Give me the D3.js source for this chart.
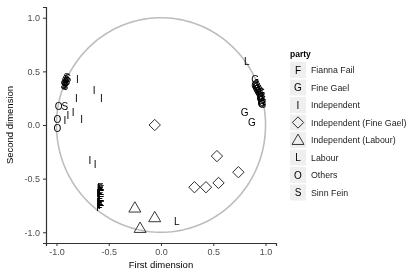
<!DOCTYPE html>
<html lang="en">
<head>
  <meta charset="UTF-8" />
  <title>d3</title>
  <script src="https://cdn.jsdelivr.net/npm/d3@7"></script>
  <style>
    body { margin: 0; background: #fff; }
    svg { filter: grayscale(1); }
    text { font-family: "Liberation Sans", Arial, sans-serif; }
  </style>
</head>
<body>
  <svg id="svg"></svg>
</body>
<script>
  // legend order
  const parties = ["Fianna Fail", "Fine Gael", "Independent", "Independent (Fine Gael)",
    "Independent (Labour)", "Labour", "Others", "Sinn Fein"];
  const ticks = [-1.0, -0.5, 0.0, 0.5, 1.0];

  // points per party, [first, second]
  const fiannaFail = [[-0.58, -0.58], [-0.58, -0.61], [-0.59, -0.64], [-0.58, -0.67],
    [-0.58, -0.70], [-0.59, -0.72], [-0.58, -0.74], [-0.59, -0.77],
    [-0.57, -0.60], [-0.57, -0.65], [-0.57, -0.70], [-0.57, -0.75],
    [-0.585, -0.595], [-0.585, -0.685], [-0.585, -0.755]];
  const fineGael = [[0.90, 0.42], [0.90, 0.37], [0.91, 0.35], [0.92, 0.33], [0.93, 0.31],
    [0.94, 0.29], [0.95, 0.27], [0.95, 0.25], [0.96, 0.23], [0.97, 0.21], [0.97, 0.19],
    [0.96, 0.30], [0.93, 0.34], [0.91, 0.38], [0.92, 0.36], [0.94, 0.32], [0.95, 0.30],
    [0.96, 0.26], [0.97, 0.24], [0.96, 0.20], [0.80, 0.12], [0.87, 0.02]];
  const independent = [[-0.80, 0.42], [-0.64, 0.32], [-0.57, 0.25], [-0.81, 0.25],
    [-0.84, 0.12], [-0.89, 0.09], [-0.92, 0.04], [-0.76, 0.05], [-0.68, -0.33], [-0.63, -0.37]];
  const indFineGael = [[-0.06, 0.00], [0.535, -0.29], [0.74, -0.44], [0.55, -0.54],
    [0.43, -0.58], [0.32, -0.58]];
  const indLabour = [[-0.25, -0.77], [-0.06, -0.86], [-0.20, -0.96]];
  const labour = [[0.82, 0.59], [0.15, -0.90]];
  const others = [[-0.98, 0.17], [-0.99, 0.05], [-0.99, -0.03]];
  const sinnFein = [[-0.93, 0.37], [-0.92, 0.39], [-0.93, 0.38], [-0.91, 0.40],
    [-0.92, 0.41], [-0.91, 0.42], [-0.90, 0.44], [-0.92, 0.36], [-0.90, 0.41],
    [-0.89, 0.43], [-0.92, 0.17]];

  const marks = [
    { data: fiannaFail, shape: "F" },
    { data: fineGael, shape: "G" },
    { data: independent, shape: "I" },
    { data: indFineGael, shape: "diamond" },
    { data: indLabour, shape: "triangle" },
    { data: labour, shape: "L" },
    { data: others, shape: "O" },
    { data: sinnFein, shape: "S" },
  ];

  const width = 413, height = 273;
  const svg = d3.select("#svg").attr("width", width).attr("height", height);

  const x = d3.scaleLinear().domain([-1.1, 1.1]).range([46, 276]);
  const y = d3.scaleLinear().domain([-1.1, 1.1]).range([243, 7]);

  // unit circle
  const circle = d3.range(0, 361, 2).map(a => [Math.cos(a * Math.PI / 180), Math.sin(a * Math.PI / 180)]);
  svg.append("path")
    .attr("d", d3.line().x(d => x(d[0])).y(d => y(d[1]))(circle))
    .attr("fill", "none").attr("stroke", "#bdbdbd").attr("stroke-width", 1.6);

  function drawShape(sel, shape, cx, cy) {
    if (shape === "diamond") {
      sel.append("path")
        .attr("d", d3.symbol(d3.symbolSquare, 64)())
        .attr("transform", `translate(${cx},${cy}) rotate(45)`)
        .attr("fill", "none").attr("stroke", "#222").attr("stroke-width", 0.9);
    } else if (shape === "triangle") {
      sel.append("path")
        .attr("d", d3.symbol(d3.symbolTriangle, 62)())
        .attr("transform", `translate(${cx},${cy + 1})`)
        .attr("fill", "none").attr("stroke", "#222").attr("stroke-width", 0.9);
    } else {
      sel.append("text")
        .attr("x", cx).attr("y", cy)
        .attr("text-anchor", "middle").attr("dominant-baseline", "central")
        .attr("font-size", 10).attr("fill", "#000")
        .text(shape);
    }
  }

  const pts = svg.append("g");
  marks.forEach(m => {
    m.data.forEach(d => drawShape(pts, m.shape, x(d[0]), y(d[1])));
  });

  // axes
  const xAxis = svg.append("g").attr("transform", "translate(0,243)")
    .call(d3.axisBottom(x).tickValues(ticks).tickSizeOuter(0).tickSize(3).tickPadding(3));
  const yAxis = svg.append("g").attr("transform", "translate(46,0)")
    .call(d3.axisLeft(y).tickValues(ticks).tickSizeOuter(0).tickSize(3).tickPadding(3));
  [xAxis, yAxis].forEach(a => {
    a.select(".domain").attr("stroke", "#333").attr("stroke-width", 1.2);
    a.selectAll(".tick line").attr("stroke", "#333");
    a.selectAll(".tick text").attr("font-size", 9).attr("fill", "#4d4d4d")
      .attr("font-family", "Liberation Sans, Arial, sans-serif")
      .text(d => d3.format(".1f")(d).replace("−", "-"));
  });

  svg.append("text").attr("x", 161).attr("y", 268).attr("text-anchor", "middle")
    .attr("font-size", 9.5).text("First dimension");
  svg.append("text").attr("transform", "translate(13,125) rotate(-90)").attr("text-anchor", "middle")
    .attr("font-size", 9.5).text("Second dimension");

  // legend
  const lg = svg.append("g");
  lg.append("text").attr("x", 290).attr("y", 57).attr("font-size", 8.5).attr("font-weight", "bold").text("party");
  parties.forEach((p, i) => {
    const cy = 70 + i * 17.5;
    lg.append("rect").attr("x", 290).attr("y", cy - 8).attr("width", 16).attr("height", 16).attr("fill", "#efefef");
    drawShape(lg, marks[i].shape, 298, cy);
    lg.append("text").attr("x", 311).attr("y", cy).attr("dominant-baseline", "central")
      .attr("font-size", 8.8).attr("fill", "#222").text(p);
  });
</script>
</html>
